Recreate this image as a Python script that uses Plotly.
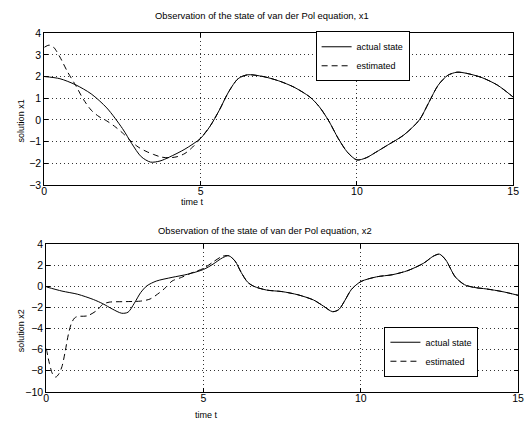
import plotly.graph_objects as go

W, H = 531, 428

# ---- data ----
t_x1_actual = [0, 0.5, 1.0, 1.5, 2.0, 2.5, 2.8, 3.1, 3.4, 3.7, 4.0, 4.5, 5.0, 5.3, 5.6, 5.9, 6.2, 6.5,
               7.0, 7.5, 8.0, 8.5, 8.8, 9.1, 9.4, 9.7, 10.0, 10.3, 10.6, 11.0, 11.5, 12.0, 12.3, 12.6,
               12.9, 13.2, 13.5, 14.0, 14.5, 15.0]
x1_actual = [2.0, 1.9, 1.62, 1.2, 0.55, -0.4, -1.1, -1.7, -1.95, -1.9, -1.72, -1.35, -0.85, -0.3, 0.45,
             1.3, 1.9, 2.08, 2.0, 1.8, 1.5, 1.05, 0.6, -0.05, -0.85, -1.5, -1.85, -1.75, -1.5, -1.15,
             -0.7, 0.0, 0.8, 1.6, 2.05, 2.2, 2.15, 1.95, 1.6, 1.05]

t_x1_est = [0, 0.15, 0.3, 0.5, 0.75, 1.0, 1.25, 1.5, 1.75, 2.0, 2.25, 2.5, 2.75, 3.0, 3.25, 3.5, 3.75,
            4.0, 4.25, 4.5, 4.75, 5.0, 5.3, 5.6, 5.9, 6.2, 6.5, 7.0, 7.5, 8.0, 8.5, 8.8, 9.1, 9.4, 9.7,
            10.0, 10.3, 10.6, 11.0, 11.5, 12.0, 12.3, 12.6, 12.9, 13.2, 13.5, 14.0, 14.5, 15.0]
x1_est = [3.35, 3.45, 3.35, 2.9, 2.2, 1.6, 0.95, 0.45, 0.15, -0.05, -0.3, -0.6, -0.95, -1.25, -1.45,
          -1.6, -1.72, -1.75, -1.7, -1.55, -1.25, -0.85, -0.3, 0.45, 1.3, 1.9, 2.08, 2.0, 1.8, 1.5,
          1.05, 0.6, -0.05, -0.85, -1.5, -1.85, -1.75, -1.5, -1.15, -0.7, 0.0, 0.8, 1.6, 2.05, 2.2,
          2.15, 1.95, 1.6, 1.05]

t_x2_actual = [0, 0.5, 1.0, 1.5, 1.8, 2.1, 2.4, 2.6, 2.8, 3.0, 3.2, 3.5, 4.0, 4.5, 5.0, 5.3, 5.6, 5.8,
               6.0, 6.2, 6.4, 6.6, 7.0, 7.5, 8.0, 8.5, 8.8, 9.1, 9.3, 9.5, 9.7, 10.0, 10.5, 11.0, 11.5,
               12.0, 12.3, 12.5, 12.7, 13.0, 13.3, 13.6, 14.0, 14.5, 15.0]
x2_actual = [-0.05, -0.45, -0.75, -1.25, -1.65, -2.15, -2.55, -2.45, -1.6, -0.6, 0.05, 0.5, 0.85, 1.15,
             1.6, 2.1, 2.7, 2.9, 2.4, 1.3, 0.4, 0.0, -0.35, -0.5, -0.8, -1.3, -1.85, -2.4, -2.2, -1.3,
             -0.3, 0.45, 0.9, 1.1, 1.5, 2.2, 2.85, 3.05, 2.5, 0.9, 0.15, -0.1, -0.25, -0.5, -0.85]

t_x2_est = [0, 0.1, 0.2, 0.3, 0.4, 0.5, 0.6, 0.7, 0.8, 0.9, 1.0, 1.3, 1.6, 1.8, 2.0, 2.5, 3.0, 3.3, 3.6,
            3.8, 4.0, 4.3, 4.6, 5.0, 5.3, 5.6, 5.8, 6.0, 6.2, 6.4, 6.6, 7.0, 7.5, 8.0, 8.5, 8.8, 9.1,
            9.3, 9.5, 9.7, 10.0, 10.5, 11.0, 11.5, 12.0, 12.3, 12.5, 12.7, 13.0, 13.3, 13.6, 14.0,
            14.5, 15.0]
x2_est = [-5.9, -7.3, -8.3, -8.6, -8.3, -7.6, -6.2, -4.6, -3.5, -3.0, -2.85, -2.8, -2.3, -1.7, -1.5,
          -1.45, -1.4, -1.2, -0.6, -0.1, 0.5, 0.85, 1.25, 1.7, 2.3, 2.85, 2.9, 2.4, 1.3, 0.4, 0.0,
          -0.35, -0.5, -0.8, -1.3, -1.85, -2.4, -2.2, -1.3, -0.3, 0.45, 0.9, 1.1, 1.5, 2.2, 2.85,
          3.05, 2.5, 0.9, 0.15, -0.1, -0.25, -0.5, -0.85]

x_ticks = [0, 5, 10, 15]
y1_ticks = [-3, -2, -1, 0, 1, 2, 3, 4]
y2_ticks = [-10, -8, -6, -4, -2, 0, 2, 4]
names = ["actual state", "estimated"]
titles = ["Observation of the state of van der Pol equation, x1",
          "Observation of the state of van der Pol equation, x2"]
ylabels = ["solution x1", "solution x2"]
xlabel = "time t"

def px(x):
    return x / W

def py(y):
    return 1 - y / H

FONT = "Liberation Sans, Arial, sans-serif"

fig = go.Figure()
line_solid = dict(color="black", width=1, shape="spline", smoothing=0.8)
line_dash = dict(color="black", width=1, dash="6px,4px", shape="spline", smoothing=0.8)

fig.add_trace(go.Scatter(x=t_x1_actual, y=x1_actual, mode="lines", name=names[0], line=line_solid,
                         xaxis="x", yaxis="y", legend="legend"))
fig.add_trace(go.Scatter(x=t_x1_est, y=x1_est, mode="lines", name=names[1], line=line_dash,
                         xaxis="x", yaxis="y", legend="legend"))
fig.add_trace(go.Scatter(x=t_x2_actual, y=x2_actual, mode="lines", name=names[0], line=line_solid,
                         xaxis="x2", yaxis="y2", legend="legend2"))
fig.add_trace(go.Scatter(x=t_x2_est, y=x2_est, mode="lines", name=names[1], line=line_dash,
                         xaxis="x2", yaxis="y2", legend="legend2"))

axis_common = dict(showline=True, linecolor="black", linewidth=1, mirror="ticks",
                   ticks="inside", ticklen=4, tickcolor="black", showgrid=True,
                   gridcolor="#333333", gridwidth=1, griddash="1px,3px", zeroline=False,
                   tickfont=dict(family=FONT, size=10.5, color="black"))

fig.update_layout(
    width=W, height=H, margin=dict(l=0, r=0, t=0, b=0),
    paper_bgcolor="white", plot_bgcolor="white",
    font=dict(family=FONT, size=10, color="black"),
    xaxis=dict(domain=[px(42), px(519)], range=[0, 15], tickvals=x_ticks, anchor="y",
               ticklabelstandoff=-3, **axis_common),
    yaxis=dict(domain=[py(184), py(28)], range=[-3, 4], tickvals=y1_ticks, anchor="x", **axis_common),
    xaxis2=dict(domain=[px(44), px(524)], range=[0, 15], tickvals=x_ticks, anchor="y2",
                ticklabelstandoff=-3, **axis_common),
    yaxis2=dict(domain=[py(397), py(245)], range=[-10, 4], tickvals=y2_ticks, anchor="x2", **axis_common),
    legend=dict(x=px(318), y=py(26), xanchor="left", yanchor="top", bgcolor="white",
                bordercolor="black", borderwidth=1, font=dict(family=FONT, size=9),
                itemwidth=30, tracegroupgap=0),
    legend2=dict(x=px(388), y=py(330), xanchor="left", yanchor="top", bgcolor="white",
                 bordercolor="black", borderwidth=1, font=dict(family=FONT, size=9),
                 itemwidth=30, tracegroupgap=0),
    showlegend=True,
)

ann = []
ann.append(dict(text=titles[0], x=px(263), y=py(10), xref="paper", yref="paper", showarrow=False,
                xanchor="center", yanchor="middle", font=dict(family=FONT, size=9.4)))
ann.append(dict(text=titles[1], x=px(267), y=py(231), xref="paper", yref="paper", showarrow=False,
                xanchor="center", yanchor="middle", font=dict(family=FONT, size=9.4)))
ann.append(dict(text=ylabels[0], x=px(18), y=py(118), xref="paper", yref="paper", showarrow=False,
                xanchor="center", yanchor="middle", textangle=-90, font=dict(family=FONT, size=9)))
ann.append(dict(text=ylabels[1], x=px(18), y=py(334), xref="paper", yref="paper", showarrow=False,
                xanchor="center", yanchor="middle", textangle=-90, font=dict(family=FONT, size=9)))
ann.append(dict(text=xlabel, x=px(193), y=py(202), xref="paper", yref="paper", showarrow=False,
                xanchor="center", yanchor="middle", font=dict(family=FONT, size=9)))
ann.append(dict(text=xlabel, x=px(207), y=py(421), xref="paper", yref="paper", showarrow=False,
                xanchor="center", yanchor="middle", font=dict(family=FONT, size=9)))
fig.update_layout(annotations=ann)

fig.write_html("out.html", config={"displayModeBar": False},
               post_script="document.body.style.margin='0px';document.body.style.overflow='hidden';")
